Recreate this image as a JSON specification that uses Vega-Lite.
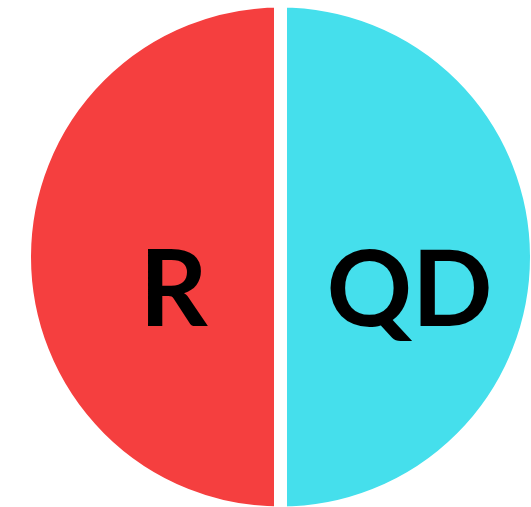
{
  "$schema": "https://vega.github.io/schema/vega-lite/v6.json",
  "width": 501,
  "height": 500,
  "autosize": "none",
  "padding": {"left": 30, "top": 7, "right": 0, "bottom": 0},
  "background": "white",
  "view": {"stroke": null},
  "data": {"values": [
    {"group": "QD", "share": 50},
    {"group": "R", "share": 50}
  ]},
  "encoding": {
    "theta": {"field": "share", "type": "quantitative", "stack": true}
  },
  "layer": [
    {
      "mark": {"type": "arc", "outerRadius": 256, "stroke": "white", "strokeWidth": 13},
      "encoding": {
        "color": {
          "field": "group",
          "type": "nominal",
          "scale": {"domain": ["QD", "R"], "range": ["#45DFEC", "#F53F3F"]},
          "legend": null
        }
      }
    },
    {
      "mark": {"type": "text", "radius": 118, "font": "Lato", "fontWeight": "bold", "fontSize": 106, "color": "black", "align": "center", "baseline": "middle", "dy": 37, "dx": 11},
      "encoding": {
        "text": {"field": "group", "type": "nominal"}
      }
    }
  ]
}
